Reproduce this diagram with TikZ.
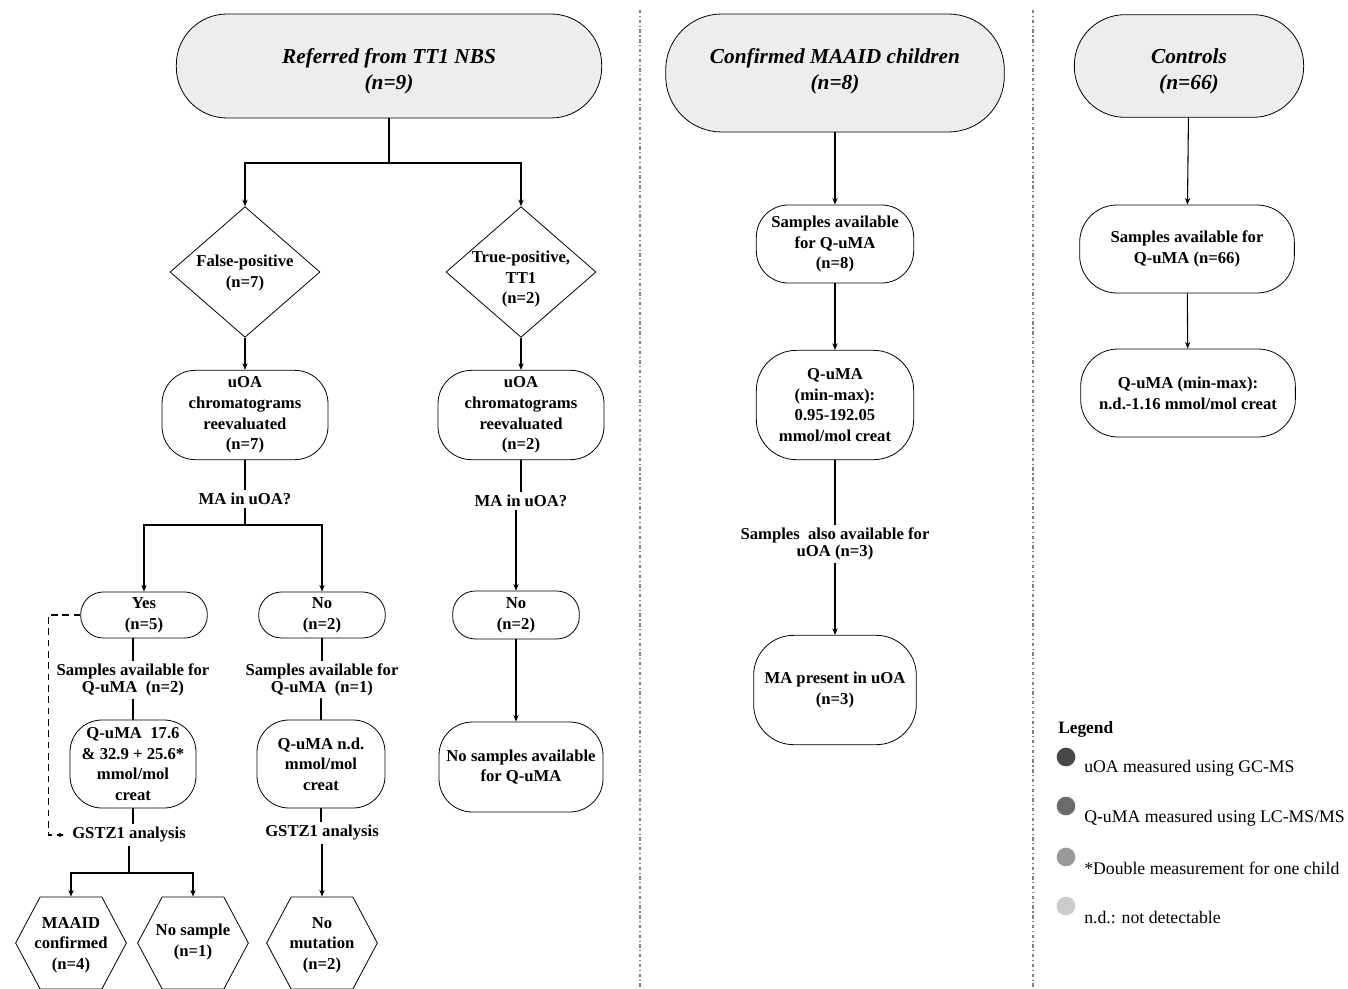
\documentclass[tikz,border=0pt]{standalone}
\usepackage{fontspec}
\setmainfont{Liberation Serif}
\usetikzlibrary{shapes.geometric,shapes.symbols,arrows.meta,calc}
\begin{document}
\begin{tikzpicture}[x=0.75pt,y=-0.75pt,
  base/.style={font=\fontsize{12.5}{15.5}\selectfont\bfseries, align=center, inner sep=1pt},
  lab/.style={font=\fontsize{12.5}{12.5}\selectfont\bfseries, align=center, inner sep=2pt},
  rbox/.style={base, draw, line width=0.6pt},
  title/.style={draw, line width=0.6pt, fill=black!7},
  titletext/.style={align=center, inner sep=0pt, font=\fontsize{16}{19.5}\selectfont\bfseries\itshape},
  diam/.style={draw, diamond, line width=0.6pt, inner sep=0pt},
  hexa/.style={draw, signal, signal to=west and east, signal pointer angle=124, line width=0.6pt, inner sep=0pt},
  conn/.style={line width=0.8pt},
  arr/.style={conn, -{Stealth[length=5pt,width=4pt]}},
  sep/.style={gray, line width=1.2pt, dash pattern=on 2.5pt off 2pt on 0.8pt off 2pt},
  legtext/.style={anchor=west, font=\fontsize{13.3}{15}\selectfont, inner sep=0pt},
  dot/.style={circle, minimum size=14pt, inner sep=0pt}
]
\useasboundingbox (0,0) rectangle (1348,988);

% separators
\draw[sep] (640,10) coordinate (s1a) -- (640,988) coordinate (s1b);
\draw[sep] (1033,10) coordinate (s2a) -- (1033,988) coordinate (s2b);

% ---------------- left column
\node[title, minimum width=319pt, minimum height=78pt, rounded corners=38pt] (t1) at (389,66) {};
\node[titletext] (t1t) at (389,71) {Referred from TT1 NBS\\(n=9)};
\coordinate (br1) at (389,163);

\node[diam, minimum width=112.5pt, minimum height=98pt] (d1) at (245,272) {};
\node[base] (d1t) at (245,273) {False-positive\\(n=7)};
\node[diam, minimum width=112.5pt, minimum height=98pt] (d2) at (521,272) {};
\node[base] (d2t) at (521,279) {True-positive,\\TT1\\(n=2)};

\node[rbox, minimum width=124.5pt, minimum height=67pt, rounded corners=25pt] (u1) at (245,415) {uOA\\chromatograms\\reevaluated\\(n=7)};
\node[rbox, minimum width=124.5pt, minimum height=67pt, rounded corners=25pt] (u2) at (521,415) {uOA\\chromatograms\\reevaluated\\(n=2)};

\node[lab] (ma1) at (245,499) {MA in uOA?};
\node[lab] (ma2) at (521,501) {MA in uOA?};
\coordinate (br2) at (245,525);

\node[rbox, minimum width=95pt, minimum height=34.5pt, rounded corners=17pt] (yes) at (144,615) {Yes\\(n=5)};
\node[rbox, minimum width=95pt, minimum height=34.5pt, rounded corners=17pt] (no1) at (322,615) {No\\(n=2)};
\node[rbox, minimum width=95pt, minimum height=36pt, rounded corners=17pt] (no2) at (516,615) {No\\(n=2)};

\node[lab] (sa1) at (133,680) {Samples available for\\Q-uMA~~(n=2)};
\node[lab] (sa2) at (322,680) {Samples available for\\Q-uMA~~(n=1)};

\node[rbox, minimum width=94.5pt, minimum height=66pt, rounded corners=24pt] (q1) at (133,764) {Q-uMA~~17.6\\\& 32.9 + 25.6*\\mmol/mol\\creat};
\node[rbox, minimum width=96pt, minimum height=66pt, rounded corners=24pt] (q2) at (321,764) {Q-uMA n.d.\\mmol/mol\\creat};
\node[rbox, minimum width=123pt, minimum height=67.5pt, rounded corners=25pt] (ns) at (521,767) {No samples available\\for Q-uMA};

\node[lab] (g1) at (129,835) {GSTZ1 analysis};
\node[lab] (g2) at (322,833) {GSTZ1 analysis};
\coordinate (br3) at (129,873);

\node[hexa, minimum width=83pt, minimum height=69pt] (h1) at (71,943) {};
\node[base] (h1t) at (71,945) {MAAID\\confirmed\\(n=4)};
\node[hexa, minimum width=83pt, minimum height=69pt] (h2) at (193,943) {};
\node[base] (h2t) at (193,942) {No sample\\(n=1)};
\node[hexa, minimum width=83pt, minimum height=69pt] (h3) at (322,943) {};
\node[base] (h3t) at (322,945) {No\\mutation\\(n=2)};

\draw[conn] (t1) -- (br1);
\draw[arr] (br1) -| (d1);
\draw[arr] (br1) -| (d2);
\draw[arr] (d1) -- (u1);
\draw[arr] (d2) -- (u2);
\draw[conn] (u1) -- (ma1);
\draw[conn] (ma1) -- (br2);
\draw[arr] (br2) -| (yes);
\draw[arr] (br2) -| (no1);
\draw[conn] (u2) -- (ma2);
\draw[arr] (ma2.south -| no2) -- (no2);
\draw[arr] (no2) -- (no2 |- ns.north);
\draw[conn] (yes.south -| sa1) -- (sa1);
\draw[conn] (sa1) -- (q1);
\draw[conn] (q1) -- (q1 |- g1.north);
\draw[conn] (no1) -- (sa2);
\draw[conn] (sa2) -- (q2 |- sa2.south) -- (q2);
\draw[conn] (q2) -- (q2 |- g2.north);
\draw[arr] (g2) -- (h3);
\draw[conn] (g1) -- (br3);
\draw[arr] (br3) -| (h1);
\draw[arr] (br3) -| (h2);
\draw[conn, dash pattern=on 5pt off 3.5pt, -{Stealth[length=4pt,width=3.5pt]}] (yes.west) -- ++(-32,0) |- ([xshift=-4pt]g1.west);

% ---------------- middle column
\node[title, minimum width=254pt, minimum height=88.5pt, rounded corners=42pt] (t2) at (835,73) {};
\node[titletext] (t2t) at (835,71) {Confirmed MAAID children\\(n=8)};
\node[rbox, minimum width=118pt, minimum height=58.5pt, rounded corners=24pt] (s8) at (835,244) {Samples available\\for Q-uMA\\(n=8)};
\node[rbox, minimum width=118pt, minimum height=82pt, rounded corners=30pt] (qm) at (835,405) {Q-uMA\\(min-max):\\0.95-192.05\\mmol/mol creat};
\node[lab] (sm) at (835,544) {Samples~~also available for\\uOA (n=3)};
\node[rbox, minimum width=122pt, minimum height=82pt, rounded corners=30pt] (mp) at (835,690) {MA present in uOA\\(n=3)};
\draw[arr] (t2) -- (s8);
\draw[arr] (s8) -- (qm);
\draw[conn] (qm) -- (sm);
\draw[arr] (sm) -- (mp);

% ---------------- right column
\node[title, minimum width=172pt, minimum height=77pt, rounded corners=38pt] (t3) at (1189,66) {};
\node[titletext] (t3t) at (1189,71) {Controls\\(n=66)};
\node[rbox, minimum width=161pt, minimum height=66pt, rounded corners=28pt] (s66) at (1187,249) {Samples available for\\Q-uMA (n=66)};
\node[rbox, minimum width=161pt, minimum height=66pt, rounded corners=28pt] (q66) at (1188,393) {Q-uMA (min-max):\\n.d.-1.16 mmol/mol creat};
\draw[arr] (t3) -- (s66);
\draw[arr] (s66) -- (q66);

% ---------------- legend
\node[anchor=west, font=\fontsize{13}{15}\selectfont\bfseries, inner sep=0pt] (leg) at (1058,729) {Legend};
\node[dot, fill=black!72] (c1) at (1066,757) {};
\node[dot, fill=black!58] (c2) at (1066,806) {};
\node[dot, fill=black!40] (c3) at (1066,857) {};
\node[dot, fill=black!20] (c4) at (1066,906) {};
\node[legtext] (l1) at (1084,768) {uOA measured using GC-MS};
\node[legtext] (l2) at (1084,818) {Q-uMA measured using LC-MS/MS};
\node[legtext] (l3) at (1084,868) {*Double measurement for one child};
\node[legtext] (l4) at (1084,917) {n.d.: not detectable};
\end{tikzpicture}
\end{document}
